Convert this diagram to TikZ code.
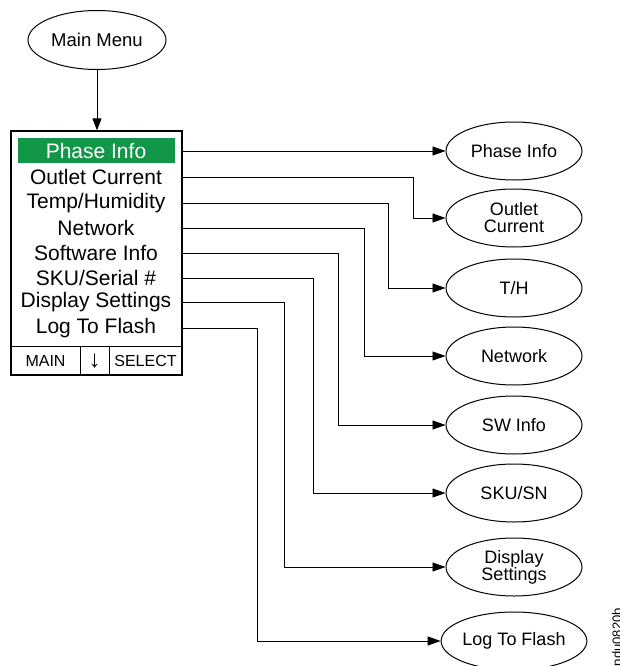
\documentclass[tikz,border=0pt]{standalone}
\usepackage{fontspec}
\setmainfont{Liberation Sans}
\usetikzlibrary{shapes.geometric,arrows.meta}
\definecolor{selgreen}{RGB}{18,150,72}
\begin{document}
\begin{tikzpicture}[x=1pt,y=-1pt,
  oval/.style={draw,line width=1pt,ellipse,minimum width=136pt,minimum height=58pt,inner sep=0pt,align=center,font=\fontsize{18}{20}\selectfont},
  item/.style={inner sep=0pt,font=\fontsize{21}{24}\selectfont},
  small/.style={inner sep=0pt,font=\fontsize{16}{18}\selectfont},
  conn/.style={line width=0.9pt,-{Triangle[length=13pt,width=9pt]}}
]
\useasboundingbox (0,0) rectangle (619,666);
% main menu
\node[oval,minimum width=138pt,minimum height=59pt,font=\fontsize{18.5}{20}\selectfont] (mm) at (97,40) {Main Menu};
% menu box
\node[draw,line width=1.2pt,rectangle,minimum width=171pt,minimum height=244pt,inner sep=0pt] (box) at (96.5,253) {};
\fill[selgreen] (18,138) rectangle (175,163);
\draw[line width=1pt] (11,346) -- (182,346);
\draw[line width=1pt] (80,346) -- (80,375);
\draw[line width=1pt] (109,346) -- (109,375);
\node[item,text=white] (i1) at (96,151) {Phase Info};
\node[item] (i2) at (96,177) {Outlet Current};
\node[item] (i3) at (96,203) {Temp/Humidity};
\node[item] (i4) at (96,228) {Network};
\node[item] (i5) at (96,253) {Software Info};
\node[item] (i6) at (96,278) {SKU/Serial \#};
\node[item] (i7) at (96,302) {Display Settings};
\node[item] (i8) at (96,328) {Log To Flash};
\node[small] (bmain) at (45.5,360.5) {MAIN};
\node[inner sep=0pt,font=\fontsize{24}{26}\selectfont] (bdown) at (94.5,361) {↓};
\node[small] (bsel) at (145.5,360.5) {SELECT};
% arrow main menu -> box
\draw[conn,-{Triangle[length=12pt,width=9pt]}] (mm.south) -- (mm.south |- box.north);
% right ellipses
\node[oval] (e1) at (514,151) {Phase Info};
\node[oval] (e2) at (514,218) {Outlet\\[-3pt]Current};
\node[oval] (e3) at (514,288) {T/H};
\node[oval] (e4) at (514,356) {Network};
\node[oval] (e5) at (514,425) {SW Info};
\node[oval] (e6) at (514,493) {SKU/SN};
\node[oval] (e7) at (514,567) {Display\\[-3pt]Settings};
\node[oval] (e8) at (514,641) {Log To Flash};
% vertical lanes
\coordinate (v2) at (413,0);
\coordinate (v3) at (388,0);
\coordinate (v4) at (364,0);
\coordinate (v5) at (338,0);
\coordinate (v6) at (313,0);
\coordinate (v7) at (284,0);
\coordinate (v8) at (257,0);
% connectors
\draw[conn] (i1 -| box.east) -- (e1.west);
\draw[conn] (i2 -| box.east) -- (i2 -| v2) |- (e2.west);
\draw[conn] (i3 -| box.east) -- (i3 -| v3) |- (e3.west);
\draw[conn] (i4 -| box.east) -- (i4 -| v4) |- (e4.west);
\draw[conn] (i5 -| box.east) -- (i5 -| v5) |- (e5.west);
\draw[conn] (i6 -| box.east) -- (i6 -| v6) |- (e6.west);
\draw[conn] (i7 -| box.east) -- (i7 -| v7) |- (e7.west);
\draw[conn] (i8 -| box.east) -- (i8 -| v8) |- (e8.west);
% figure id
\node[rotate=90,inner sep=0pt,font=\fontsize{13}{14}\selectfont,anchor=north east] (fid) at (612,608) {pdu0820b};
\end{tikzpicture}
\end{document}
